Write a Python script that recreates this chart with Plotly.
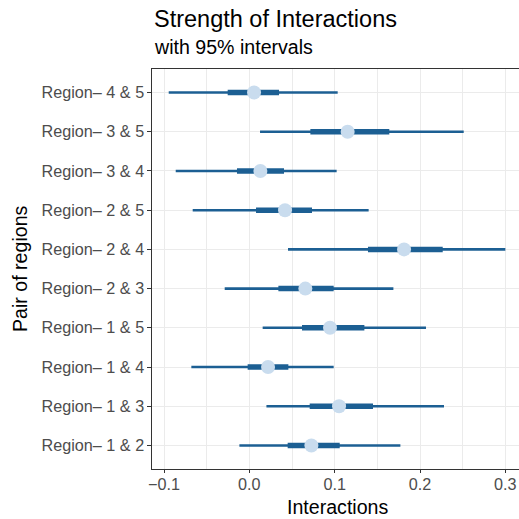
import plotly.graph_objects as go

pairs = ["Region\u2013 1 & 2", "Region\u2013 1 & 3", "Region\u2013 1 & 4", "Region\u2013 1 & 5",
         "Region\u2013 2 & 3", "Region\u2013 2 & 4", "Region\u2013 2 & 5", "Region\u2013 3 & 4",
         "Region\u2013 3 & 5", "Region\u2013 4 & 5"]
median = [0.0727, 0.1051, 0.0219, 0.0945, 0.0656, 0.1813, 0.0418, 0.0129, 0.1152, 0.0055]
inner_lo = [0.0449, 0.0707, -0.0020, 0.0617, 0.0340, 0.1390, 0.0078, -0.0145, 0.0715, -0.0254]
inner_hi = [0.1059, 0.1449, 0.0457, 0.1348, 0.0988, 0.2266, 0.0734, 0.0406, 0.1640, 0.0348]
outer_lo = [-0.0117, 0.0200, -0.0680, 0.0156, -0.0289, 0.0453, -0.0664, -0.0863, 0.0125, -0.0945]
outer_hi = [0.1770, 0.2281, 0.0988, 0.2070, 0.1688, 0.3000, 0.1398, 0.1023, 0.2512, 0.1035]
x_ticks = [-0.1, 0.0, 0.1, 0.2, 0.3]
x_ticklabels = ["\u22120.1", "0.0", "0.1", "0.2", "0.3"]

LINE = "#1c5f93"
POINT = "#c9dcee"
FONT = "Liberation Sans, Arial, sans-serif"


def segs(lo, hi, cats):
    xs, ys = [], []
    for a, b, c in zip(lo, hi, cats):
        xs += [a, b, None]
        ys += [c, c, None]
    return xs, ys


fig = go.Figure()
ox, oy = segs(outer_lo, outer_hi, pairs)
fig.add_trace(go.Scatter(x=ox, y=oy, mode="lines", line=dict(color=LINE, width=2.6),
                         hoverinfo="skip", showlegend=False))
ix, iy = segs(inner_lo, inner_hi, pairs)
fig.add_trace(go.Scatter(x=ix, y=iy, mode="lines", line=dict(color=LINE, width=5.5),
                         hoverinfo="skip", showlegend=False))
fig.add_trace(go.Scatter(x=median, y=pairs, mode="markers",
                         marker=dict(color=POINT, size=14, line=dict(width=0)),
                         showlegend=False))

W, H = 519, 519
L, R, T, B = 152, 0, 69, 50
pw = W - L - R
ph = H - T - B

fig.update_layout(
    width=W, height=H,
    margin=dict(l=L, r=R, t=T, b=B),
    paper_bgcolor="white", plot_bgcolor="white",
    font=dict(family=FONT, color="#000000"),
    xaxis=dict(
        range=[-0.1141, 0.316],
        tickvals=x_ticks, ticktext=x_ticklabels,
        tickfont=dict(size=16.2, color="#4d4d4d"),
        ticks="outside", ticklen=3, tickcolor="#333333", tickwidth=1,
        ticklabelstandoff=-3,
        showgrid=True, gridcolor="#ebebeb", gridwidth=1.4,
        minor=dict(dtick=0.05, tick0=0.0, showgrid=True, gridcolor="#ebebeb", gridwidth=0.7, ticks=""),
        showline=True, linecolor="#333333", linewidth=1.2, mirror=True,
        zeroline=False,
    ),
    yaxis=dict(
        type="category", categoryorder="array", categoryarray=pairs,
        range=[-0.6, 9.6],
        tickfont=dict(size=16.2, color="#4d4d4d"),
        ticks="outside", ticklen=3.5, tickcolor="#333333", tickwidth=1,
        showgrid=True, gridcolor="#ebebeb", gridwidth=1.4,
        showline=True, linecolor="#333333", linewidth=1.2,
        zeroline=False,
    ),
    annotations=[
        dict(text="Strength of Interactions", xref="paper", yref="paper",
             x=0, y=1 + (T - 18.5) / ph, showarrow=False,
             xanchor="left", yanchor="middle", font=dict(size=23.5, color="#000000")),
        dict(text="with 95% intervals", xref="paper", yref="paper",
             x=0, y=1 + (T - 46.5) / ph, showarrow=False,
             xanchor="left", yanchor="middle", font=dict(size=19.6, color="#000000")),
        dict(text="Interactions", xref="paper", yref="paper",
             x=(337 - L) / pw, y=-(507 - (T + ph)) / ph, showarrow=False,
             xanchor="center", yanchor="middle", font=dict(size=19.6, color="#000000")),
        dict(text="Pair of regions", xref="paper", yref="paper", textangle=-90,
             x=(20 - L) / pw, y=1 - (269 - T) / ph, showarrow=False,
             xanchor="center", yanchor="middle", font=dict(size=19.6, color="#000000")),
    ],
)

fig.write_html("out.html", config={"displayModeBar": False},
               post_script="document.body.style.margin='0px';document.body.style.overflow='hidden';")
